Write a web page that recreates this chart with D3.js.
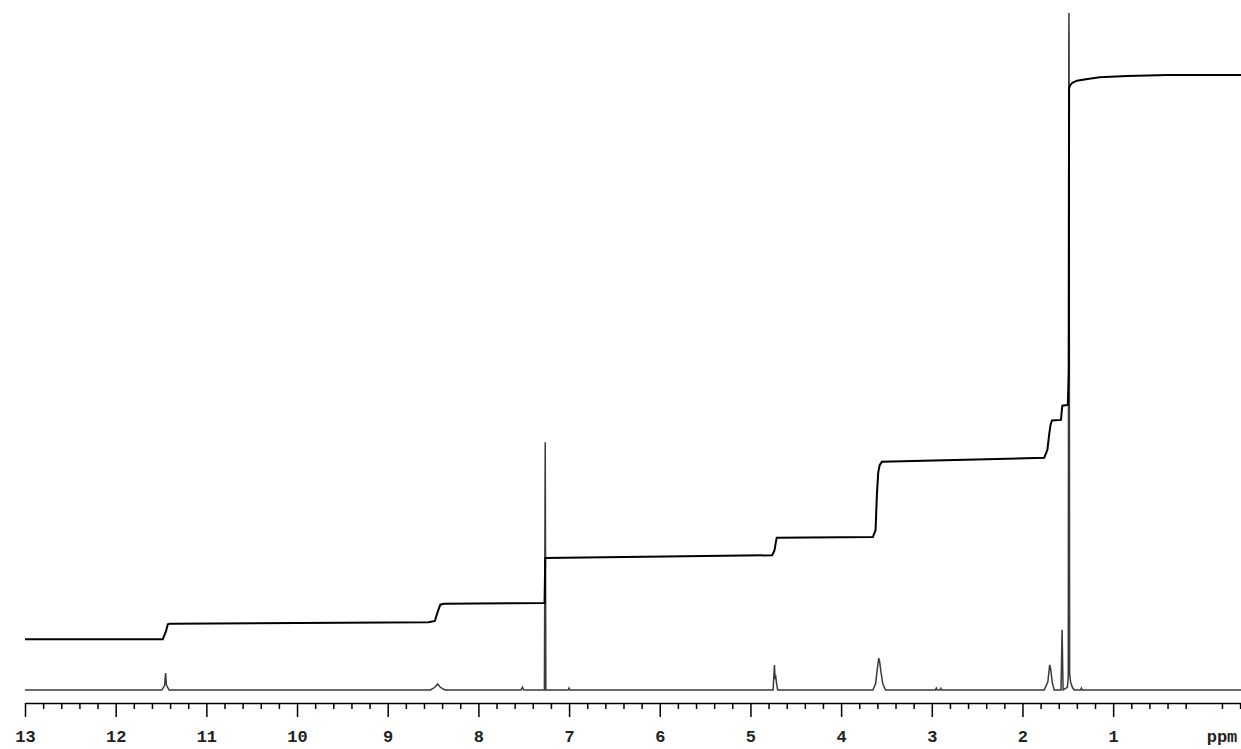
<!DOCTYPE html>
<html>
<head>
<meta charset="utf-8">
<script src="https://cdn.jsdelivr.net/npm/d3@7"></script>
<style>
  html, body { margin: 0; padding: 0; background: #fff; }
  svg { display: block; }
</style>
</head>
<body>
<script>
// ---- Data ----
// Spectrum trace: chemical shift (ppm) and intensity (% of tallest peak)
const specPpm = [13.0, 11.49, 11.46, 11.45, 11.44, 11.41, 8.53, 8.48, 8.45, 8.42, 8.37, 7.53, 7.515, 7.50,
  7.272, 7.263, 7.256, 7.01, 7.0, 6.99, 4.75, 4.735, 4.728, 4.722, 4.714, 4.70,
  3.65, 3.62, 3.60, 3.585, 3.575, 3.56, 3.54, 3.51, 2.96, 2.95, 2.94, 2.91, 2.90, 2.89,
  1.76, 1.72, 1.70, 1.69, 1.67, 1.65, 1.575, 1.563, 1.552, 1.505, 1.495, 1.489, 1.4875, 1.486, 1.48, 1.47, 1.45, 1.43,
  1.36, 1.35, 1.34, -0.41];
const specInt = [0, 0, 0.7, 2.5, 0.7, 0, 0, 0.4, 0.9, 0.4, 0, 0, 0.4, 0,
  0, 36.6, 0, 0, 0.3, 0, 0, 3.7, 1.6, 2.2, 1.2, 0,
  0, 0.9, 3.2, 4.7, 4.2, 2.6, 0.9, 0, 0, 0.3, 0, 0, 0.25, 0,
  0, 1.2, 3.7, 3.2, 1.0, 0, 0, 8.9, 0, 0.4, 2.0, 96, 100, 96, 2.5, 1.2, 0.4, 0,
  0, 0.3, 0, 0];

// Integral trace: chemical shift (ppm) and running integral (same % scale)
const integPpm = [13.0, 11.48, 11.445, 11.425, 11.40, 8.55, 8.48, 8.45, 8.42, 8.38, 7.27, 7.263,
  4.76, 4.735, 4.72, 4.71, 3.65, 3.62, 3.605, 3.59, 3.575, 3.55, 1.76, 1.725, 1.705, 1.69, 1.675, 1.575,
  1.564, 1.56, 1.50, 1.489, 1.486, 1.475, 1.45, 1.40, 1.30, 1.15, 0.85, 0.40, -0.41];
const integVal = [7.5, 7.5, 8.7, 9.7, 9.8, 10.0, 10.2, 11.5, 12.6, 12.75, 12.85, 19.5,
  19.9, 20.6, 21.8, 22.5, 22.6, 23.6, 29.0, 32.2, 33.2, 33.7, 34.3, 35.5, 37.8, 39.2, 39.8, 39.9,
  41.6, 42.0, 42.1, 47.0, 88.9, 89.3, 89.7, 90.0, 90.2, 90.5, 90.7, 90.85, 90.85];

// Axis ticks
const majorTicks = [13, 12, 11, 10, 9, 8, 7, 6, 5, 4, 3, 2, 1];
const minorTicks = d3.range(65, -3, -1).map(d => d / 5).filter(d => !Number.isInteger(d));
const unitLabel = "ppm";

// ---- Layout ----
const W = 1241, H = 749;
const x = d3.scaleLinear().domain([13, -0.41]).range([25, 1241]);
const y = d3.scaleLinear().domain([0, 100]).range([690, 13]);

const svg = d3.select("body").append("svg").attr("width", W).attr("height", H);

const spec = specPpm.map((p, i) => [p, specInt[i]]);
const integ = integPpm.map((p, i) => [p, integVal[i]]);

const line = d3.line().x(d => x(d[0])).y(d => y(d[1]));

// spectrum
svg.append("path")
  .datum(spec)
  .attr("d", line)
  .attr("fill", "none")
  .attr("stroke", "#3a3a3a")
  .attr("stroke-width", 1.5);

// integral
svg.append("path")
  .datum(integ)
  .attr("d", line)
  .attr("fill", "none")
  .attr("stroke", "#000")
  .attr("stroke-width", 2);

// axis
const axisY = 703;
const fontFam = "'Liberation Mono', 'Courier New', monospace";
const minorAxis = d3.axisBottom(x).tickValues(minorTicks).tickSize(6).tickSizeOuter(0).tickFormat("");
const majorAxis = d3.axisBottom(x).tickValues(majorTicks).tickSize(14).tickSizeOuter(0).tickPadding(13)
  .tickFormat(d3.format("d"));

const gMinor = svg.append("g").attr("transform", `translate(0,${axisY})`).call(minorAxis);
const gMajor = svg.append("g").attr("transform", `translate(0,${axisY})`).call(majorAxis);
gMinor.select(".domain").attr("stroke", "#000").attr("stroke-width", 1.5);
gMajor.select(".domain").remove();
svg.selectAll(".tick line").attr("stroke", "#000").attr("stroke-width", 1.5);
gMajor.selectAll(".tick text")
  .attr("font-family", fontFam)
  .attr("font-size", 17)
  .attr("font-weight", "bold")
  .attr("fill", "#222");

svg.append("text")
  .attr("x", 1222)
  .attr("y", 742)
  .attr("text-anchor", "middle")
  .attr("font-family", fontFam)
  .attr("font-size", 17)
  .attr("font-weight", "bold")
  .attr("fill", "#222")
  .text(unitLabel);
</script>
</body>
</html>
